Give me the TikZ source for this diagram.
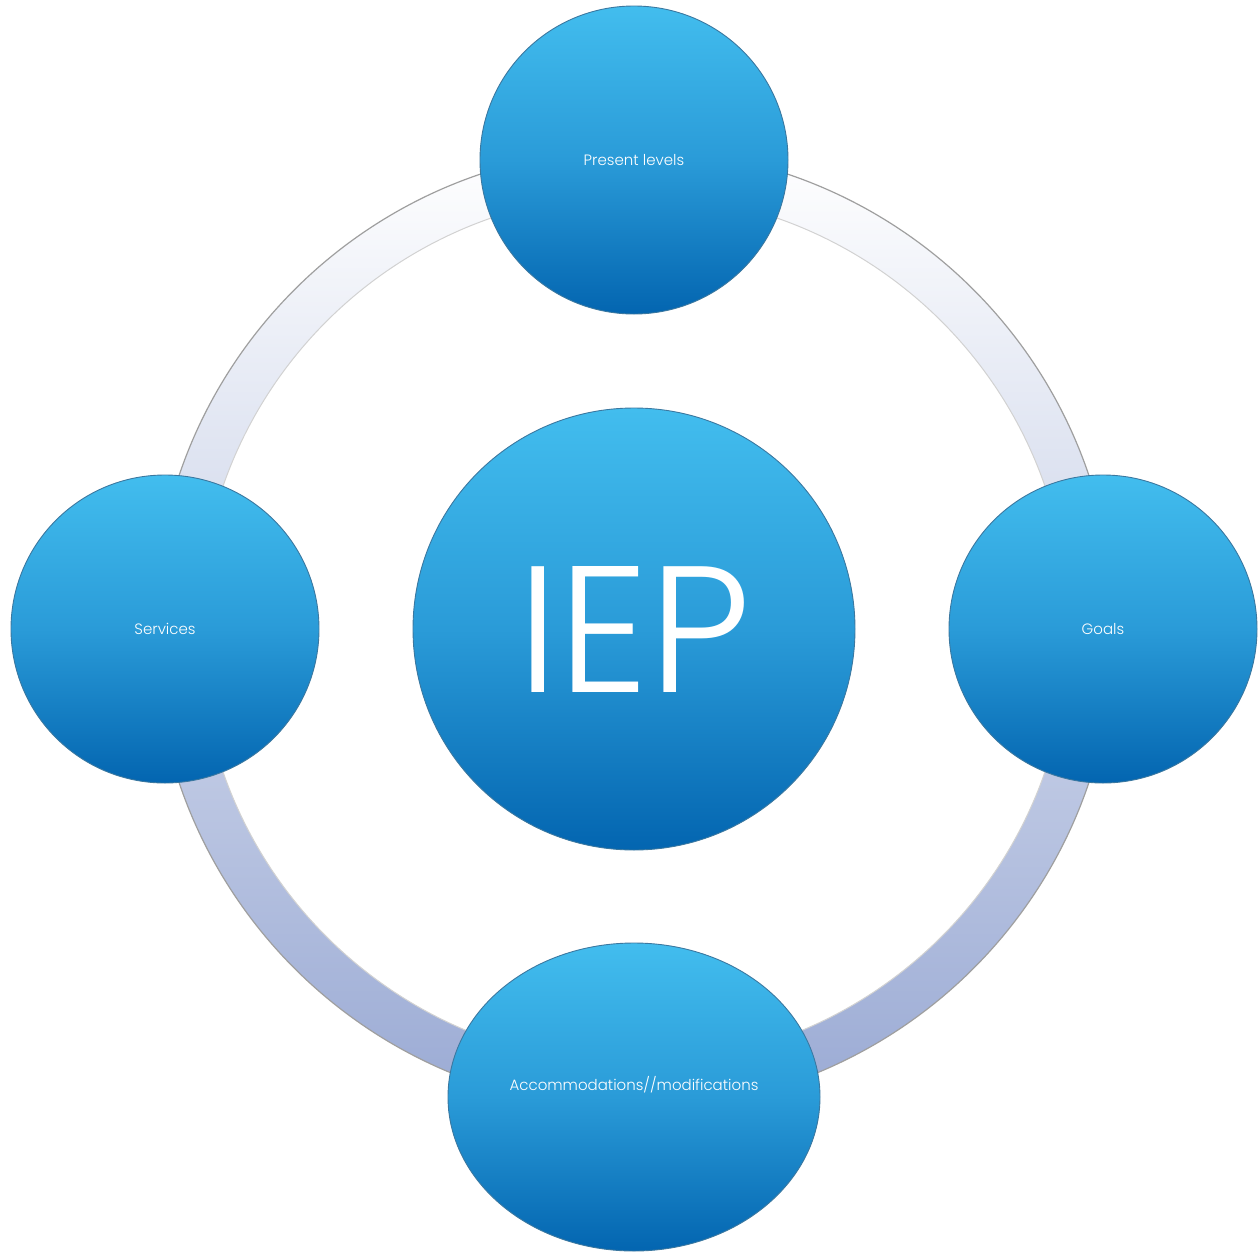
\documentclass[tikz,border=0pt]{standalone}
\usepackage{fontspec}
\setmainfont{Poppins}
\newfontfamily\iepfont{Poppins}[UprightFont={* Light}]
\usetikzlibrary{shapes.geometric}
\definecolor{bluetop}{HTML}{42BDEE}
\definecolor{bluemid}{HTML}{2A9BD8}
\definecolor{bluebot}{HTML}{0365B0}
\definecolor{blueedge}{HTML}{3B78A0}
\definecolor{ringbot}{HTML}{9AAAD4}
\tikzset{
  bubble/.style={circle, minimum size=308pt, inner sep=0pt, draw=blueedge, line width=0.9pt,
    top color=bluetop, bottom color=bluebot, middle color=bluemid, text=white, font=\iepfont\fontsize{15}{18}\selectfont},
  labeltext/.style={text=white, inner sep=0pt, font=\iepfont\fontsize{15}{18}\selectfont},
}
\begin{document}
\begin{tikzpicture}[x=1pt,y=-1pt]
\useasboundingbox (0,0) rectangle (1259,1251);
% ring
\shade[even odd rule, top color=white, bottom color=ringbot] (634,629) circle (480) (634,629) circle (435);
\draw[gray!75, line width=1.2pt] (634,629) circle (480);
\draw[gray!35, line width=1pt] (634,629) circle (435);
% center
\node[bubble, minimum size=442pt, font=\iepfont\fontsize{180}{180}\selectfont] (iep) at (634,629) {IEP};
% satellites
\node[bubble] (present) at (634,160) {Present levels};
\node[bubble] (goals) at (1103,629) {Goals};
\node[bubble] (services) at (165,629) {Services};
\node[bubble, ellipse, minimum width=372pt, minimum height=308pt] (acc) at (634,1097) {};
\node[labeltext] (acctext) at (634,1085) {Accommodations//modifications};
\end{tikzpicture}
\end{document}
